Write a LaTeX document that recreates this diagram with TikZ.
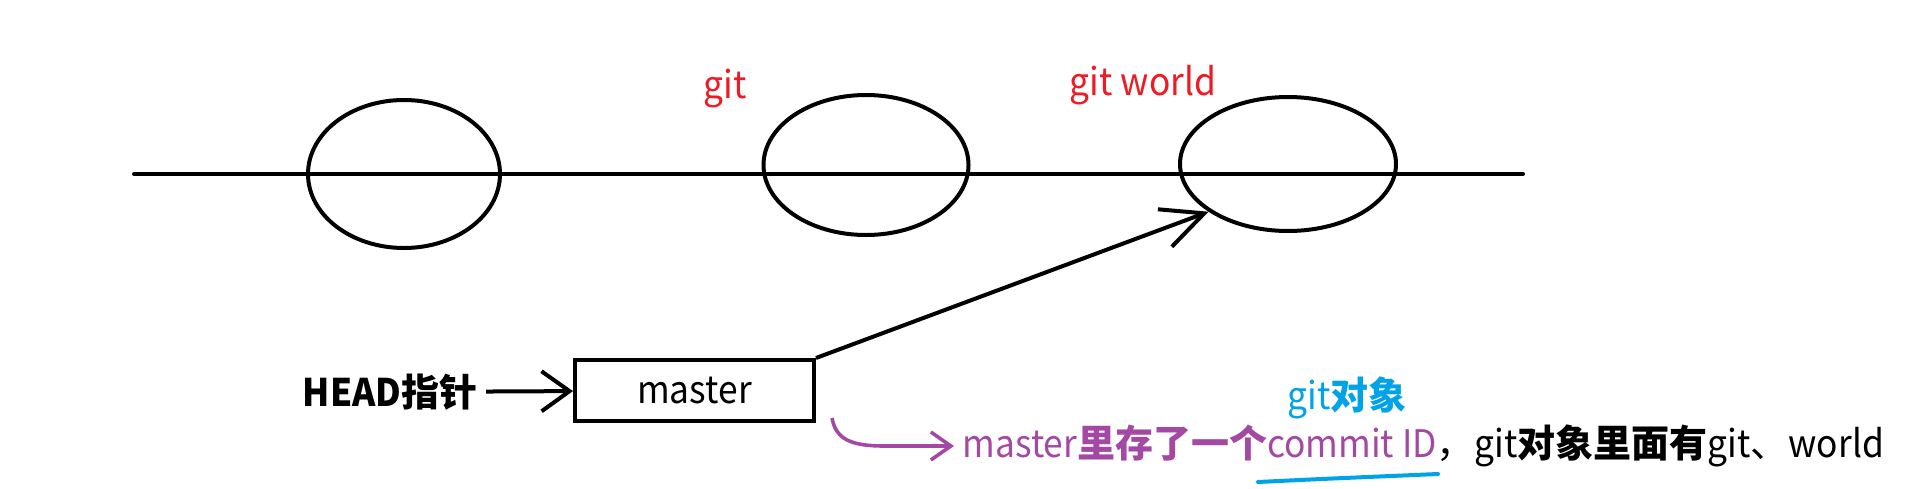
\documentclass[tikz,border=0pt]{standalone}
\usepackage{fontspec}
\setmainfont{Noto Sans CJK SC}[FakeStretch=0.93]
\newfontfamily\hanfont{Noto Sans CJK SC}
\newcommand\han[1]{{\hanfont\bfseries #1}}
\usepackage{xcolor}
\usetikzlibrary{positioning,shapes.geometric,arrows.meta}
\definecolor{paintred}{HTML}{ED1C24}
\definecolor{paintpurple}{HTML}{A349A4}
\definecolor{paintblue}{HTML}{00A2E8}

\begin{document}
\begin{tikzpicture}[x=0.5pt,y=-0.5pt,line width=2pt,
    txt/.style={font=\fontsize{19pt}{22pt}\selectfont},
    commit/.style={draw,ellipse,line width=2pt,inner sep=0pt},
    branch/.style={draw,rectangle,line width=2pt,minimum width=119.5pt,minimum height=30.5pt},
    barb/.style={-{Straight Barb[length=#1,width=20pt]}}]
            \useasboundingbox (0,0) rectangle (1906,488);
            % commits on the line
            \node[commit,minimum width=96pt,minimum height=74pt] (c1) at (404,174) {};
            \node[commit,minimum width=102.5pt,minimum height=70pt] (c2) at (866,165) {};
            \node[commit,minimum width=108pt,minimum height=67pt] (c3) at (1288,164) {};
            \coordinate (l0) at (134,174);
            \coordinate (l1) at (1523,174);
            \draw [black,line cap=round](l0)--(l1);
            \node[txt,text=paintred] (v1) at (725,89) {git};
            \node[txt,text=paintred] (v2) at (1143,85) {git world};
            % branch and head
            \node[branch,txt] (master) at (694.5,390.5) {master};
            \node[txt,anchor=west] (head) at (294,392) {\textbf{HEAD}\han{指针}};
            \draw [black,barb=14pt](head)--(master);
            \draw [black,barb=21pt](master.north east)--(c3.211);
            % note
            \node[txt,text=paintblue] (obj) at (1347,398) {git\han{对象}};
            \node[txt,anchor=west] (info) at (954,446) {{\color{paintpurple}master\han{里存了一个}commit ID}{\hanfont ，}git\han{对象里面有}git{\hanfont 、}world};
            \coordinate (hook) at (832,418);
            \draw [paintpurple,line width=1.8pt,-{Straight Barb[length=10pt,width=14pt]}](hook) .. controls (836,440) and (852,446) .. (885,446)--(info.west);
            \draw [paintblue,line cap=round](1258,482) .. controls (1320,479) .. (1438,474);
\end{tikzpicture}
\end{document}
